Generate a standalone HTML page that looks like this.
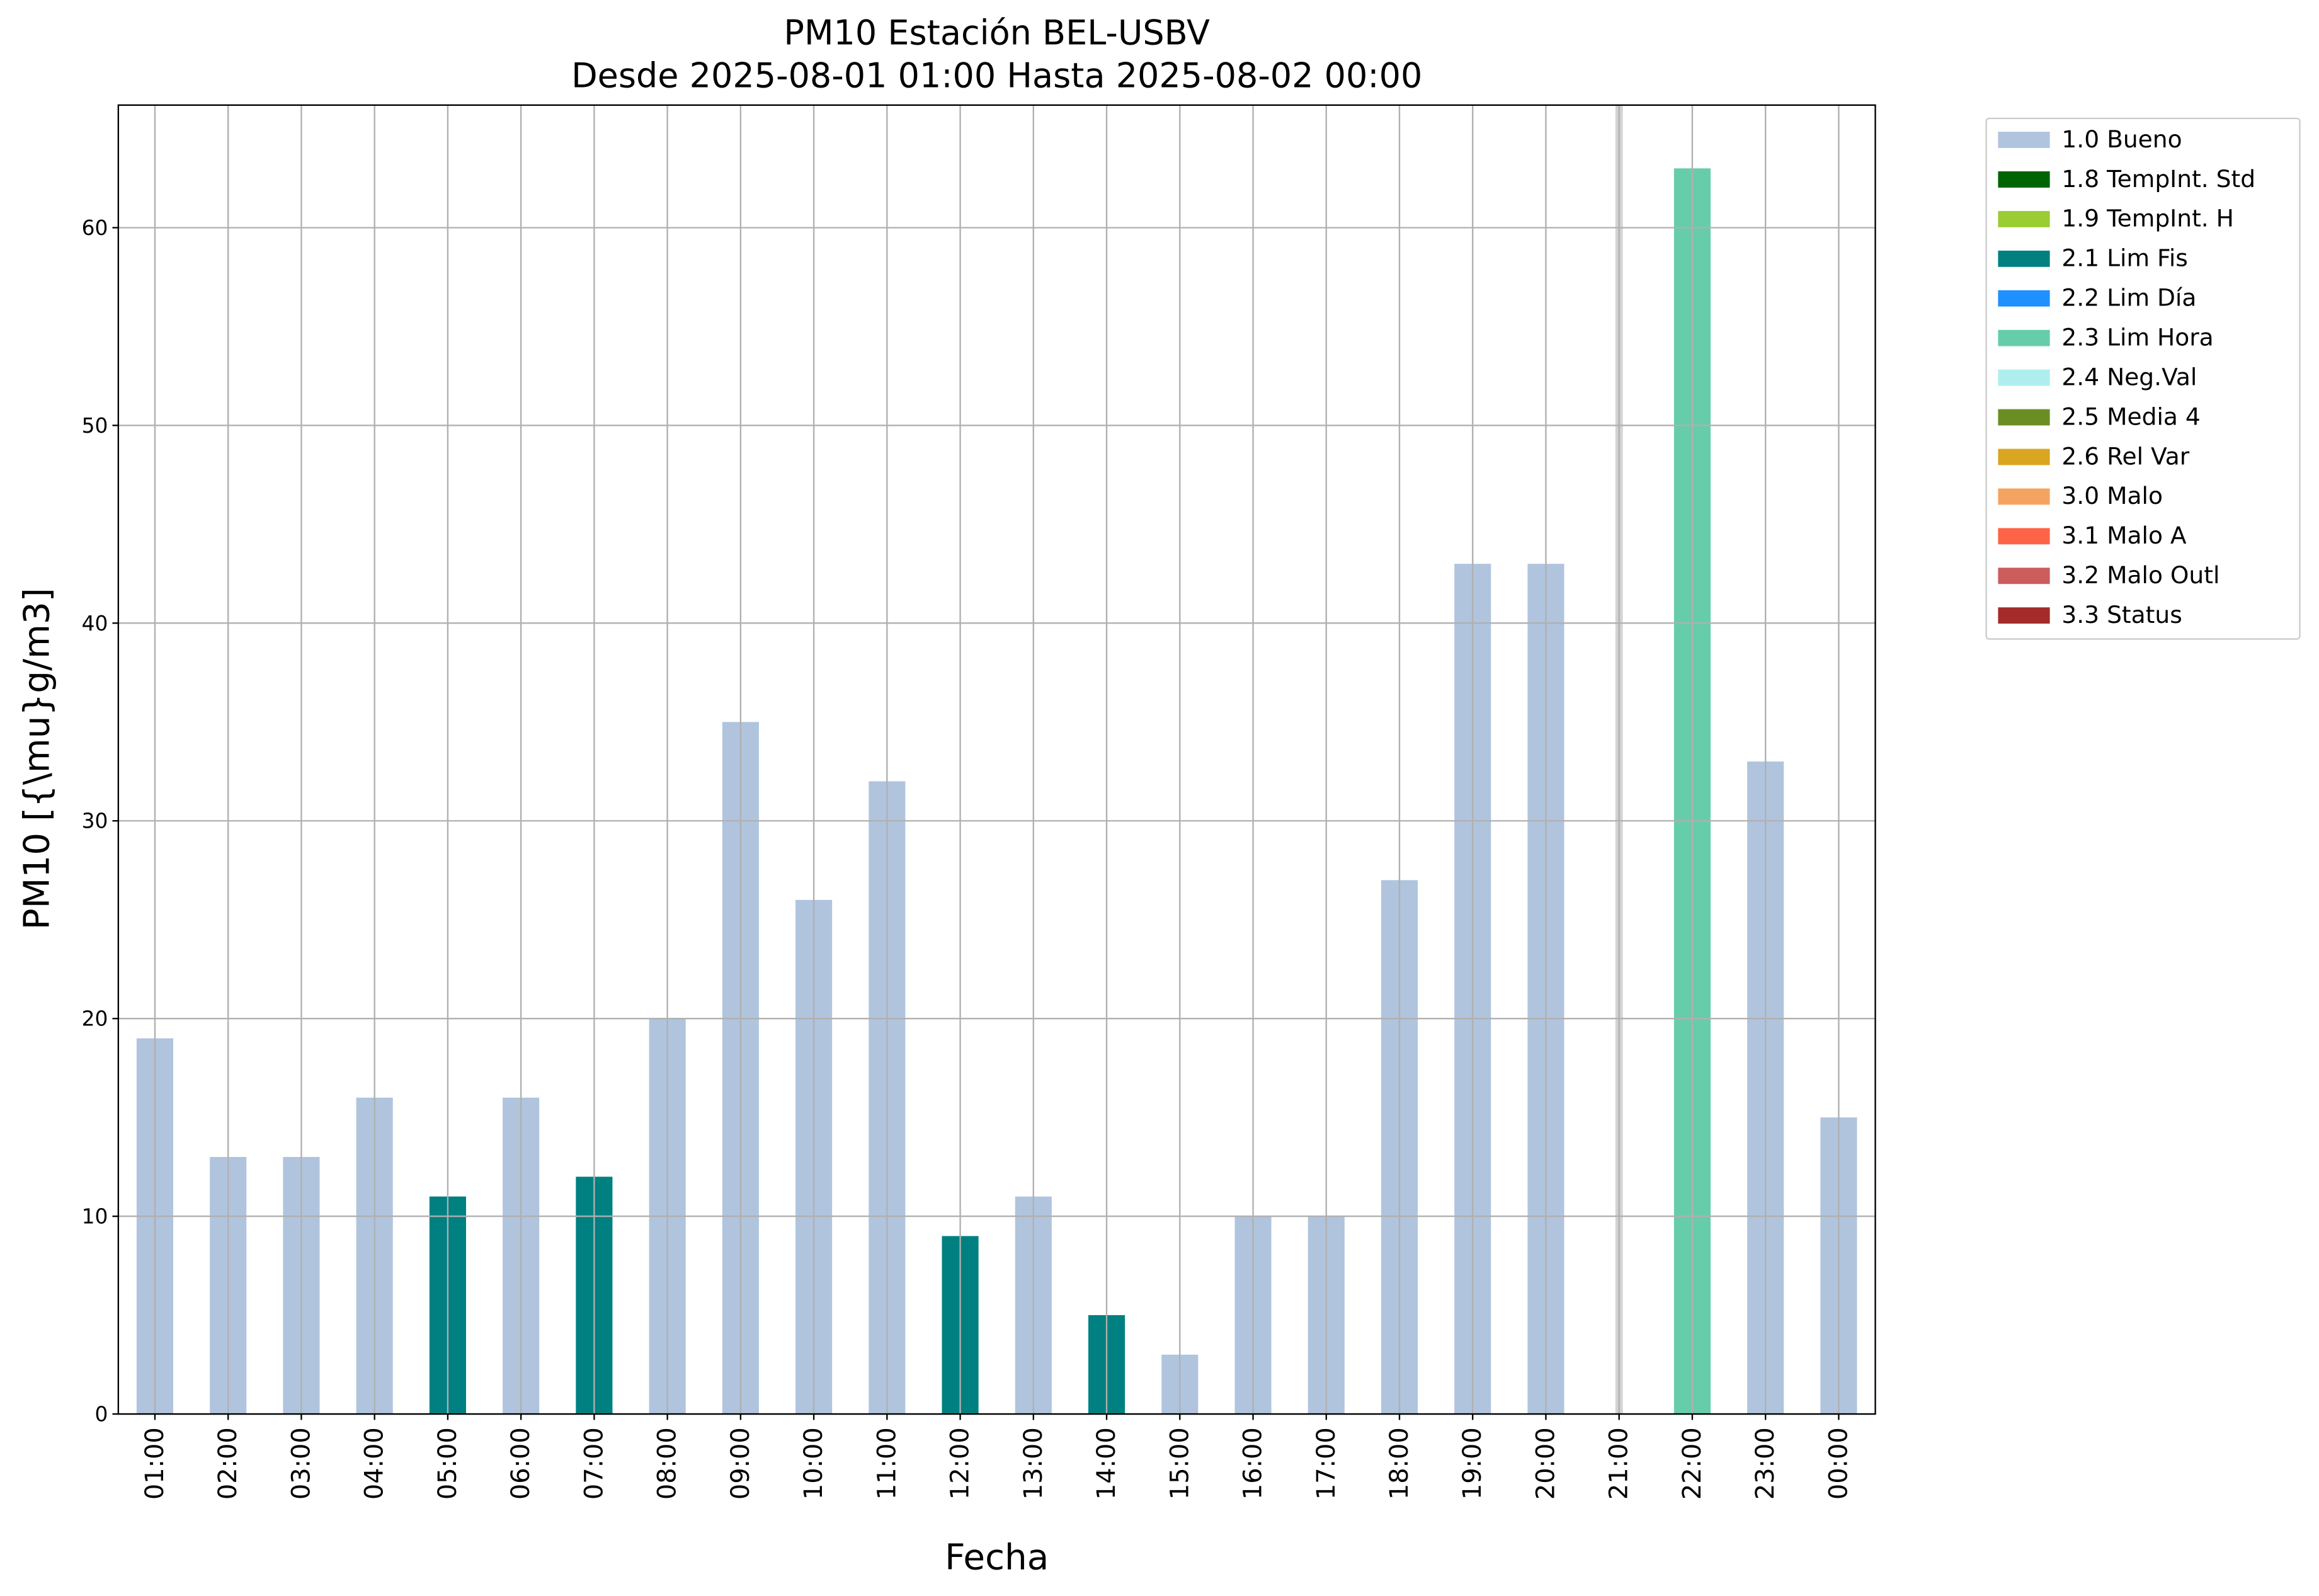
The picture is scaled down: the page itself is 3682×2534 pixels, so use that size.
<!DOCTYPE html>
<html><head><meta charset="utf-8"><style>
html,body{margin:0;padding:0;background:#fff;}
svg{display:block;font-family:"DejaVu Sans","Liberation Sans",sans-serif;}
</style></head><body>
<svg id="chart" width="3682" height="2534" viewBox="0 0 1568 1079" xmlns="http://www.w3.org/2000/svg">
<rect width="1568" height="1079" fill="#fff"/>
<text x="674" y="30" font-size="23" text-anchor="middle">PM10 Estación BEL-USBV</text>
<text x="674" y="59" font-size="23" text-anchor="middle">Desde 2025-08-01 01:00 Hasta 2025-08-02 00:00</text>
<g id="grid"></g>
<g id="bars"></g>
<rect x="80" y="71" width="1188" height="885" fill="none" stroke="#000" stroke-width="1"/>
<g id="yticks"></g>
<g id="xticks"></g>
<text transform="translate(33,513) rotate(-90)" font-size="24" text-anchor="middle">PM10 [{\mu}g/m3]</text>
<text x="674" y="1061" font-size="24" text-anchor="middle">Fecha</text>
<g id="legend">
<rect x="1343" y="80" width="212" height="352" fill="#fff" stroke="#ccc" stroke-width="1" rx="2"/>
</g>
</svg>
<script>
const categories=["01:00","02:00","03:00","04:00","05:00","06:00","07:00","08:00","09:00","10:00","11:00","12:00","13:00","14:00","15:00","16:00","17:00","18:00","19:00","20:00","21:00","22:00","23:00","00:00"];
const values=[19,13,13,16,11,16,12,20,35,26,32,9,11,5,3,10,10,27,43,43,null,63,33,15];
const flags=["1.0","1.0","1.0","1.0","2.1","1.0","2.1","1.0","1.0","1.0","1.0","2.1","1.0","2.1","1.0","1.0","1.0","1.0","1.0","1.0","none","2.3","1.0","1.0"];
const yTicks=[0,10,20,30,40,50,60];
const legendLabels=["1.0 Bueno","1.8 TempInt. Std","1.9 TempInt. H","2.1 Lim Fis","2.2 Lim Día","2.3 Lim Hora","2.4 Neg.Val","2.5 Media 4","2.6 Rel Var","3.0 Malo","3.1 Malo A","3.2 Malo Outl","3.3 Status"];
const legendColors=["#b0c4de","#006400","#9acd32","#008080","#1e90ff","#66cdaa","#afeeee","#6b8e23","#daa520","#f4a460","#ff6347","#cd5c5c","#a52a2a"];
const NS="http://www.w3.org/2000/svg";
const L=80,R=1268,T=71,B=956,yMax=66.2;
function xs(i){return L+(i+0.5)*(R-L)/categories.length;}
function ys(v){return B-v*(B-T)/yMax;}
function mk(tag,attrs,parent){const e=document.createElementNS(NS,tag);for(const k in attrs)e.setAttribute(k,attrs[k]);parent.appendChild(e);return e;}
const grid=document.getElementById('grid'),bars=document.getElementById('bars'),yt=document.getElementById('yticks'),xt=document.getElementById('xticks'),lg=document.getElementById('legend');
const step=(R-L)/categories.length;
categories.forEach((c,i)=>{
  const x=xs(i);
  const g=mk('line',{x1:x,x2:x,y1:T,y2:B,stroke:'#b0b0b0','stroke-width':1},grid);
  
  
  const t=mk('line',{x1:x,x2:x,y1:B,y2:B+4,stroke:'#000'},xt);
  
  
  const lb=mk('text',{transform:`translate(${x},${B+9}) rotate(-90)`,'font-size':17,'text-anchor':'end','dominant-baseline':'central'},xt);
  lb.textContent=c;
  
  
});
yTicks.forEach(v=>{
  const y=ys(v);
  const g=mk('line',{x1:L,x2:R,y1:y,y2:y,stroke:'#b0b0b0','stroke-width':1},grid);
  
  
  const t=mk('line',{x1:L-4,x2:L,y1:y,y2:y,stroke:'#000'},yt);
  
  
  const lb=mk('text',{x:L-7,y:y,'font-size':14,'text-anchor':'end','dominant-baseline':'central'},yt);
  lb.textContent=v;
  
  
});
const flagColor={"1.0":"#b0c4de","2.1":"#008080","2.3":"#66cdaa"};
values.forEach((v,i)=>{
  const x=xs(i);
  if(v===null){
    const r=mk('rect',{x:x-2.5,y:T,width:5,height:B-T,fill:'#d3d3d3'},bars);
    
    
    return;
  }
  const w=step*0.5;
  const r=mk('rect',{x:x-w/2,y:ys(v),width:w,height:B-ys(v),fill:flagColor[flags[i]]||'#b0c4de'},bars);
  
  
});
bars.parentNode.insertBefore(bars,grid);
legendLabels.forEach((l,i)=>{
  const y=94+i*26.8;
  const p=mk('rect',{x:1351,y:y-5,width:35,height:11,fill:legendColors[i]},lg);
  
  
  const t=mk('text',{x:1394,y:y,'font-size':16,'dominant-baseline':'central'},lg);
  t.textContent=l;
  
  
});
</script>
</body></html>
